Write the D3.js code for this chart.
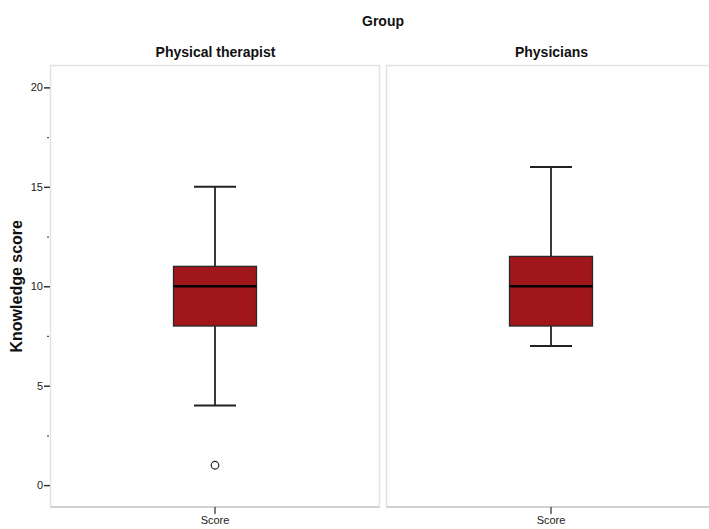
<!DOCTYPE html>
<html>
<head>
<meta charset="utf-8">
<script src="https://cdn.jsdelivr.net/npm/d3@7"></script>
<style>
  html, body { margin: 0; padding: 0; background: #fff; }
  svg { display: block; font-family: "Liberation Sans", Arial, sans-serif; }
</style>
</head>
<body>
<svg id="chart" width="709" height="529"></svg>
<script>
// Knowledge score by group (box plot summaries)
const groups = ["Physical therapist", "Physicians"];
const variableLabel = ["Score"];
const lowerWhisker = [4, 7];
const q1 = [8, 8];
const median = [10, 10];
const q3 = [11, 11.5];
const upperWhisker = [15, 16];
const outliers = [[1], []];
const majorTicks = [0, 5, 10, 15, 20];
const minorTicks = [2.5, 7.5, 12.5, 17.5];

const svg = d3.select("#chart");
const plotTop = 65.5, plotBottom = 507;
const panelLefts = [50.5, 386.5];
const panelWidth = 329;

const y = d3.scaleLinear().domain([-1.1, 21.1]).range([plotBottom, plotTop]);

const panel = d3.scaleBand().domain(groups)
  .range([panelLefts[0], panelLefts[0] + 2 * panelWidth + 7])
  .paddingInner(7 / (panelWidth + 7)).paddingOuter(0);

// Overall facet title
svg.append("text").attr("x", 383).attr("y", 26).attr("text-anchor", "middle")
  .attr("font-size", 14).attr("font-weight", "bold").attr("fill", "#111").text("Group");

// Y axis title
svg.append("text").attr("transform", `translate(22,${(plotTop + plotBottom) / 2}) rotate(-90)`)
  .attr("text-anchor", "middle").attr("font-size", 16).attr("font-weight", "bold").attr("fill", "#111")
  .text("Knowledge score");

groups.forEach((g, i) => {
  const x0 = panel(g);
  const w = panel.bandwidth();
  const gEl = svg.append("g");

  // Panel frame: light top/left, darker bottom
  gEl.append("rect").attr("x", x0).attr("y", plotTop).attr("width", w).attr("height", plotBottom - plotTop)
    .attr("fill", "#fff").attr("stroke", "#e2e2e2").attr("stroke-width", 1.5);
  gEl.append("line").attr("x1", x0).attr("x2", x0 + w).attr("y1", plotBottom).attr("y2", plotBottom)
    .attr("stroke", "#c8c8c8").attr("stroke-width", 1.5);

  // Panel title
  svg.append("text").attr("x", x0 + w / 2 + 0.5).attr("y", 57).attr("text-anchor", "middle")
    .attr("font-size", 14).attr("font-weight", "bold").attr("fill", "#111").text(g);

  // Category axis within panel
  const x = d3.scaleBand().domain(variableLabel).range([x0, x0 + w]);
  const cx = x(variableLabel[0]) + x.bandwidth() / 2;
  const xAxis = d3.axisBottom(x).tickSize(7).tickPadding(2);
  const ax = svg.append("g").attr("transform", `translate(0,${plotBottom})`).call(xAxis);
  ax.select(".domain").remove();
  ax.selectAll(".tick line").attr("stroke", "#555").attr("stroke-width", 1.5);
  ax.selectAll(".tick text").attr("font-size", 11).attr("fill", "#222")
    .attr("font-family", "\"Liberation Sans\", Arial, sans-serif");

  const boxW = 83, capW = 42;

  // Whiskers
  gEl.append("line").attr("x1", cx).attr("x2", cx).attr("y1", y(upperWhisker[i])).attr("y2", y(q3[i]))
    .attr("stroke", "#3a3a3a").attr("stroke-width", 2);
  gEl.append("line").attr("x1", cx).attr("x2", cx).attr("y1", y(q1[i])).attr("y2", y(lowerWhisker[i]))
    .attr("stroke", "#3a3a3a").attr("stroke-width", 2);
  [upperWhisker[i], lowerWhisker[i]].forEach(v => {
    gEl.append("line").attr("x1", cx - capW / 2).attr("x2", cx + capW / 2).attr("y1", y(v)).attr("y2", y(v))
      .attr("stroke", "#222").attr("stroke-width", 2);
  });

  // Box
  gEl.append("rect").attr("x", cx - boxW / 2).attr("y", y(q3[i])).attr("width", boxW)
    .attr("height", y(q1[i]) - y(q3[i])).attr("fill", "#a0161b").attr("stroke", "#2a2a2a").attr("stroke-width", 1.3);
  gEl.append("line").attr("x1", cx - boxW / 2).attr("x2", cx + boxW / 2).attr("y1", y(median[i])).attr("y2", y(median[i]))
    .attr("stroke", "#000").attr("stroke-width", 2.5);

  // Outliers
  gEl.selectAll("circle.out").data(outliers[i]).enter().append("circle")
    .attr("cx", cx).attr("cy", d => y(d)).attr("r", 3.8)
    .attr("fill", "#fff").attr("stroke", "#222").attr("stroke-width", 1.2);
});

// Y axis on the first panel
const yAxis = d3.axisLeft(y).tickValues(majorTicks).tickSize(6).tickPadding(1);
const ya = svg.append("g").attr("transform", `translate(${panelLefts[0] - 0.5},0)`).call(yAxis);
ya.select(".domain").remove();
ya.selectAll(".tick line").attr("stroke", "#333").attr("stroke-width", 1.5);
ya.selectAll(".tick text").attr("font-size", 11).attr("fill", "#222")
  .attr("font-family", "\"Liberation Sans\", Arial, sans-serif");
const yMinor = d3.axisLeft(y).tickValues(minorTicks).tickSize(2).tickFormat("");
const ym = svg.append("g").attr("transform", `translate(${panelLefts[0] - 1.5},0)`).call(yMinor);
ym.select(".domain").remove();
ym.selectAll(".tick line").attr("stroke", "#555").attr("stroke-width", 1.2);
</script>
</body>
</html>
